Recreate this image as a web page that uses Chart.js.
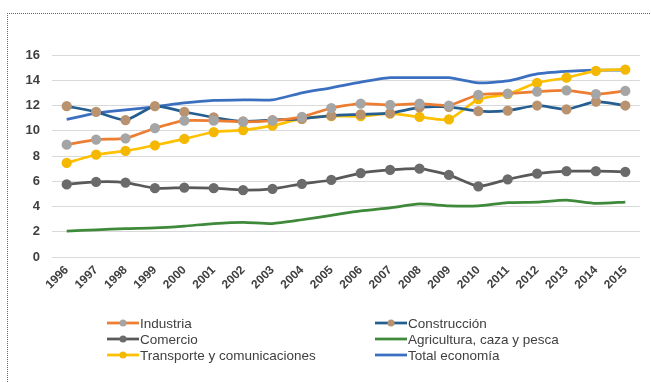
<!DOCTYPE html>
<html>
<head>
<meta charset="utf-8">
<script src="https://cdn.jsdelivr.net/npm/chart.js@4"></script>
<style>
  html, body { margin: 0; padding: 0; background: #ffffff; }
  body { width: 651px; height: 382px; position: relative; overflow: hidden; }
  #frame {
    position: absolute; left: 7px; top: 13px; width: 700px; height: 400px;
    border-top: 1px dotted #4f64b8; border-left: 1px dotted #4f64b8;
  }
  #wrap { position: absolute; left: 0; top: 0; width: 651px; height: 382px; }
</style>
</head>
<body>
<div id="frame"></div>
<div id="wrap"><canvas id="c" width="651" height="382"></canvas></div>
<script>
const years = ['1996','1997','1998','1999','2000','2001','2002','2003','2004','2005',
               '2006','2007','2008','2009','2010','2011','2012','2013','2014','2015'];

const industria    = [8.9, 9.3, 9.4, 10.2, 10.8, 10.8, 10.7, 10.8, 11.1, 11.8,
                      12.15, 12.05, 12.15, 12.0, 12.85, 12.95, 13.1, 13.2, 12.9, 13.15];
const construccion = [11.95, 11.5, 10.85, 11.95, 11.5, 11.05, 10.75, 10.85, 10.95, 11.2,
                      11.3, 11.4, 11.85, 11.9, 11.55, 11.6, 12.0, 11.7, 12.3, 12.0];
const comercio     = [5.75, 5.95, 5.9, 5.45, 5.5, 5.45, 5.3, 5.4, 5.8, 6.1,
                      6.65, 6.9, 7.0, 6.5, 5.6, 6.15, 6.6, 6.8, 6.8, 6.75];
const agricultura  = [2.05, 2.15, 2.25, 2.3, 2.45, 2.65, 2.75, 2.65, 2.95, 3.3,
                      3.65, 3.9, 4.2, 4.05, 4.05, 4.3, 4.35, 4.5, 4.25, 4.35];
const transporte   = [7.45, 8.1, 8.4, 8.85, 9.35, 9.9, 10.05, 10.4, 10.95, 11.15,
                      11.15, 11.35, 11.1, 10.9, 12.5, 12.9, 13.8, 14.2, 14.75, 14.85];
const total        = [10.9, 11.4, 11.65, 11.9, 12.2, 12.4, 12.45, 12.45, 13.0, 13.4,
                      13.85, 14.2, 14.2, 14.2, 13.8, 13.95, 14.5, 14.7, 14.8, 14.8];
const yTicks = [0, 2, 4, 6, 8, 10, 12, 14, 16];

function series(label, data, line, marker, showMarker) {
  return {
    label, data,
    borderColor: line, backgroundColor: marker,
    pointBackgroundColor: marker, pointBorderColor: marker,
    borderWidth: 2.75, tension: 0.2,
    pointRadius: showMarker ? 3.75 : 0, pointStyle: 'circle'
  };
}

const datasets = [
  series('Industria', industria, '#ED7D31', '#A5A5A5', true),
  series('Construcción', construccion, '#255E91', '#B9936F', true),
  series('Comercio', comercio, '#595959', '#6b6b6b', true),
  series('Agricultura, caza y pesca', agricultura, '#3E8A3A', '#3E8A3A', false),
  series('Transporte y comunicaciones', transporte, '#FFC000', '#F5B800', true),
  series('Total economía', total, '#3B6FC0', '#3B6FC0', false)
];

// Two-column legend below the axis
const legendGrid = {
  id: 'legendGrid',
  afterDraw(chart) {
    const ctx = chart.ctx;
    const cols = [107, 375];
    const rows = [323, 339, 355];
    ctx.save();
    ctx.font = '13.5px "Liberation Sans", Arial, sans-serif';
    ctx.textBaseline = 'middle';
    chart.data.datasets.forEach((ds, i) => {
      const x = cols[i % 2], y = rows[Math.floor(i / 2)];
      ctx.strokeStyle = ds.borderColor;
      ctx.lineWidth = 2.75;
      ctx.beginPath(); ctx.moveTo(x, y); ctx.lineTo(x + 32, y); ctx.stroke();
      if (ds.pointRadius > 0) {
        ctx.fillStyle = ds.pointBackgroundColor;
        ctx.beginPath(); ctx.arc(x + 16, y, 3.5, 0, Math.PI * 2); ctx.fill();
      }
      ctx.fillStyle = '#404040';
      ctx.fillText(ds.label, x + 33, y + 1);
    });
    ctx.restore();
  }
};

new Chart(document.getElementById('c'), {
  type: 'line',
  data: { labels: years, datasets },
  plugins: [legendGrid],
  options: {
    responsive: false,
    animation: false,
    layout: { padding: { left: 0, right: 11, top: 55, bottom: 0 } },
    plugins: { legend: { display: false }, tooltip: { enabled: false } },
    scales: {
      x: {
        offset: true,
        grid: { display: false, drawTicks: false },
        border: { display: false },
        ticks: {
          color: '#404040', minRotation: 45, maxRotation: 45, autoSkip: false, padding: 6,
          font: { family: '"Liberation Sans", Arial, sans-serif', size: 12, weight: 'bold' }
        },
        afterFit(scale) { scale.height = 125; }
      },
      y: {
        min: 0, max: 16,
        afterBuildTicks(scale) { scale.ticks = yTicks.map(v => ({ value: v })); },
        grid: { color: '#d9d9d9', lineWidth: 1, drawTicks: false },
        border: { display: false },
        ticks: {
          color: '#404040', padding: 12,
          font: { family: '"Liberation Sans", Arial, sans-serif', size: 13, weight: 'bold' }
        },
        afterFit(scale) { scale.width = 52; }
      }
    }
  }
});
</script>
</body>
</html>
